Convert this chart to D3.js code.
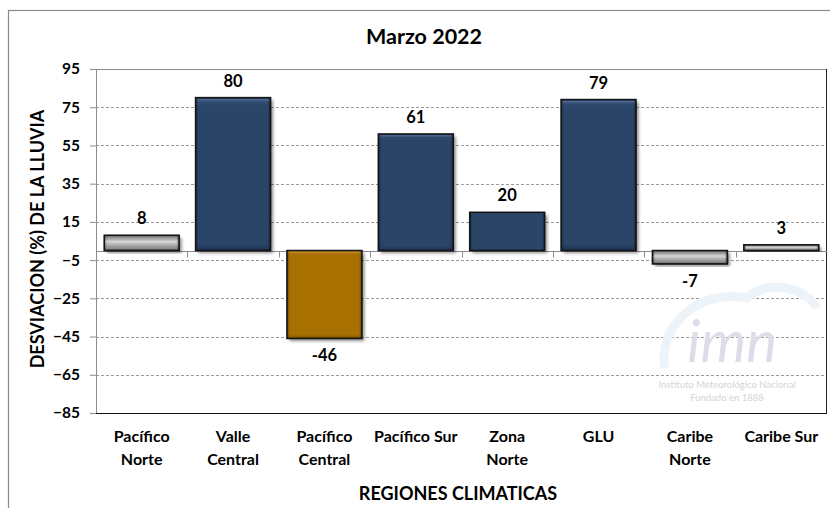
<!DOCTYPE html>
<html>
<head>
<meta charset="utf-8">
<script src="https://cdn.jsdelivr.net/npm/d3@7"></script>
<style>
  body { margin: 0; background: #fff; }
  text { font-family: Lato, "Open Sans", sans-serif; font-weight: bold; fill: #000; }
</style>
</head>
<body>
<div id="drawing_region"></div>
<script>
// datos de la figura
var regiones = [["Pacífico", "Norte"], ["Valle", "Central"], ["Pacífico", "Central"], ["Pacífico Sur"],
                ["Zona", "Norte"], ["GLU"], ["Caribe", "Norte"], ["Caribe Sur"]];
var desviacion = [8, 80, -46, 61, 20, 79, -7, 3];
var clase = ["normal", "lluvioso", "seco", "lluvioso", "lluvioso", "lluvioso", "normal", "normal"];
var yTicks = [95, 75, 55, 35, 15, -5, -25, -45, -65, -85];

var width = 830;
var height = 508;
var margin = { "top": 69, "bottom": 95, "right": 3, "left": 96 };
var plotW = width - margin.left - margin.right;
var plotH = height - margin.top - margin.bottom;

var svg = d3.select("#drawing_region")
            .append("svg")
            .attr("width", width)
            .attr("height", height);

// degradados y sombra
var defs = svg.append("defs");
var gradStops = {
    lluvioso: [[0, "#2b4468"], [0.012, "#4b668f"], [0.03, "#2f4a6f"], [0.06, "#2b4468"], [0.96, "#2b4468"], [1, "#1d3050"]],
    seco:     [[0, "#a86f05"], [0.012, "#d39a2a"], [0.03, "#ad7409"], [0.06, "#a86f05"], [0.96, "#a86f05"], [1, "#7a5003"]],
    normal:   [[0, "#6e6e6e"], [0.22, "#a4a4a4"], [0.42, "#d8d8d8"], [0.58, "#b6b6b6"], [0.85, "#8c8c8c"], [1, "#585858"]]
};
Object.keys(gradStops).forEach(function(k) {
    var gr = defs.append("linearGradient").attr("id", "grad_" + k)
        .attr("x1", 0).attr("x2", 0).attr("y1", 0).attr("y2", 1);
    gradStops[k].forEach(function(s) {
        gr.append("stop").attr("offset", s[0]).attr("stop-color", s[1]);
    });
});
var side = defs.append("linearGradient").attr("id", "grad_side");
[[0, 0.35], [0.04, 0.0], [0.96, 0.0], [1, 0.4]].forEach(function(s) {
    side.append("stop").attr("offset", s[0]).attr("stop-color", "#000").attr("stop-opacity", s[1]);
});
var shadow = defs.append("filter").attr("id", "sombra")
    .attr("x", "-10%").attr("y", "-10%").attr("width", "130%").attr("height", "130%");
shadow.append("feDropShadow").attr("dx", 2.5).attr("dy", 2.5).attr("stdDeviation", 1.5)
    .attr("flood-color", "#000").attr("flood-opacity", 0.45);

// marco exterior
svg.append("rect")
    .attr("x", 8.5).attr("y", 10.5)
    .attr("width", width + 10).attr("height", height + 10)
    .attr("fill", "none").attr("stroke", "#8c8c8c").attr("stroke-width", 1.2);

var g = svg.append("g")
    .attr("transform", "translate(" + margin.left + "," + margin.top + ")");

var xScale = d3.scaleBand()
    .domain(d3.range(regiones.length))
    .range([0, plotW])
    .paddingInner(0.18)
    .paddingOuter(0.09);

var yScale = d3.scaleLinear()
    .domain([-85, 95])
    .range([plotH, 0]);

// lineas de cuadricula
g.append("g")
    .selectAll("line")
    .data(yTicks.filter(function(t) { return t != 95 && t != -85; }))
    .enter()
    .append("line")
    .attr("x1", 0).attr("x2", plotW)
    .attr("y1", function(d) { return Math.round(yScale(d)) + 0.5; })
    .attr("y2", function(d) { return Math.round(yScale(d)) + 0.5; })
    .attr("stroke", "#9a9a9a")
    .attr("stroke-dasharray", "3,2");

// borde del area de trazado
g.append("line").attr("x1", 0).attr("x2", plotW).attr("y1", 0.5).attr("y2", 0.5).attr("stroke", "#8c8c8c");
g.append("line").attr("x1", plotW - 0.5).attr("x2", plotW - 0.5).attr("y1", 0).attr("y2", plotH).attr("stroke", "#222");

// eje Y
var yAxis = g.append("g")
    .call(d3.axisLeft(yScale).tickValues(yTicks).tickSize(6).tickPadding(10));
yAxis.select(".domain").attr("stroke", "#8c8c8c");
yAxis.selectAll(".tick line").attr("stroke", "#8c8c8c");
yAxis.selectAll(".tick text")
    .attr("font-size", 15.5)
    .attr("font-family", "Lato, sans-serif")
    .attr("font-weight", "bold")
    .attr("fill", "#000");

// linea del cero con marcas de categoria
var y0 = Math.round(yScale(0)) + 0.5;
g.append("line").attr("x1", 0).attr("x2", plotW).attr("y1", y0).attr("y2", y0).attr("stroke", "#8c8c8c");
g.append("g")
    .selectAll("line")
    .data(d3.range(1, regiones.length))
    .enter()
    .append("line")
    .attr("x1", function(d) { return Math.round(d * plotW / regiones.length) + 0.5; })
    .attr("x2", function(d) { return Math.round(d * plotW / regiones.length) + 0.5; })
    .attr("y1", y0).attr("y2", y0 + 6)
    .attr("stroke", "#8c8c8c");

// linea inferior
g.append("line").attr("x1", 0).attr("x2", plotW).attr("y1", plotH + 0.5).attr("y2", plotH + 0.5).attr("stroke", "#111");

// marca de agua
var wm = g.append("g").attr("transform", "translate(" + (plotW - 100) + "," + (plotH - 95) + ")");
wm.append("path")
    .attr("d", "M-62,50 C-70,10 -30,-30 20,-20 C40,-40 80,-30 90,-10")
    .attr("fill", "none").attr("stroke", "#ecf3f9").attr("stroke-width", 9);
wm.append("text")
    .attr("x", 5).attr("y", 44)
    .attr("text-anchor", "middle")
    .attr("font-family", "'DejaVu Serif', serif")
    .attr("font-style", "italic")
    .attr("font-size", 58)
    .style("fill", "#dcdde9")
    .style("font-weight", "normal")
    .text("imn");
wm.append("text")
    .attr("x", 0).attr("y", 70)
    .attr("text-anchor", "middle")
    .attr("font-size", 9.5)
    .style("fill", "#d4d4da")
    .style("font-weight", "normal")
    .text("Instituto Meteorológico Nacional");
wm.append("text")
    .attr("x", 0).attr("y", 83)
    .attr("text-anchor", "middle")
    .attr("font-size", 9.5)
    .style("fill", "#d4d4da")
    .style("font-weight", "normal")
    .text("Fundado en 1888");

// barras
var bars = g.append("g")
    .selectAll("g")
    .data(desviacion)
    .enter()
    .append("g");

bars.append("rect")
    .attr("x", function(d, i) { return xScale(i); })
    .attr("y", function(d) { return yScale(Math.max(d, 0)); })
    .attr("width", xScale.bandwidth())
    .attr("height", function(d) { return Math.abs(yScale(d) - yScale(0)); })
    .attr("fill", function(d, i) { return "url(#grad_" + clase[i] + ")"; })
    .attr("filter", "url(#sombra)");

bars.append("rect")
    .attr("x", function(d, i) { return xScale(i); })
    .attr("y", function(d) { return yScale(Math.max(d, 0)); })
    .attr("width", xScale.bandwidth())
    .attr("height", function(d) { return Math.abs(yScale(d) - yScale(0)); })
    .attr("fill", "url(#grad_side)")
    .attr("stroke", "#141414")
    .attr("stroke-width", 1.6);

// etiquetas de valores
bars.append("text")
    .attr("x", function(d, i) { return xScale(i) + xScale.bandwidth() / 2; })
    .attr("y", function(d) { return d >= 0 ? yScale(d) - 11 : yScale(d) + 23; })
    .attr("text-anchor", "middle")
    .attr("font-size", 16.5)
    .text(function(d) { return d; });

// etiquetas de categorias
var cat = g.append("g")
    .selectAll("text")
    .data(regiones)
    .enter()
    .append("text")
    .attr("x", function(d, i) { return xScale(i) + xScale.bandwidth() / 2; })
    .attr("y", plotH + 29)
    .attr("text-anchor", "middle")
    .attr("font-size", 16);
cat.selectAll("tspan")
    .data(function(d) { return d; })
    .enter()
    .append("tspan")
    .attr("x", function() { return d3.select(this.parentNode).attr("x"); })
    .attr("dy", function(d, j) { return j == 0 ? 0 : 23; })
    .text(function(d) { return d; });

// titulos
svg.append("text")
    .attr("x", 424).attr("y", 44)
    .attr("text-anchor", "middle")
    .attr("font-size", 21.5)
    .text("Marzo 2022");

svg.append("text")
    .attr("x", 458).attr("y", 500)
    .attr("text-anchor", "middle")
    .attr("font-size", 18)
    .text("REGIONES CLIMATICAS");

svg.append("text")
    .attr("transform", "translate(44,239) rotate(-90)")
    .attr("text-anchor", "middle")
    .attr("font-size", 18)
    .text("DESVIACION (%) DE LA LLUVIA");
</script>
</body>
</html>
